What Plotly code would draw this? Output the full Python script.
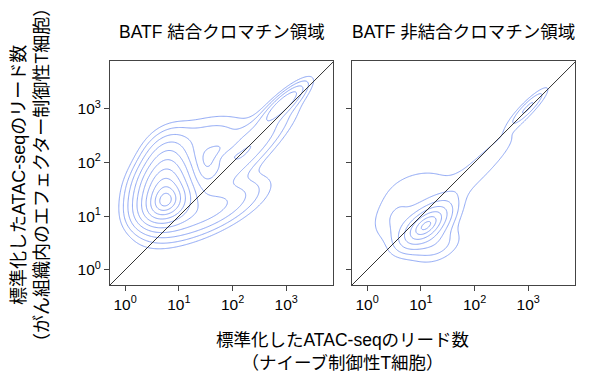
import numpy as np
import plotly.graph_objects as go

# ---- data (log10-space mixture description of the 2D density) ----
panel_titles = ["BATF 結合クロマチン領域", "BATF 非結合クロマチン領域"]
tick_values = [1, 10, 100, 1000]
tick_labels = ["10<sup>0</sup>", "10<sup>1</sup>", "10<sup>2</sup>", "10<sup>3</sup>"]
log_range_x = [-0.28, 3.87]
log_range_y = [-0.28, 3.89]

# BATF-bound regions: component centres (log10), spreads, correlation, amplitude
bound_mx = [0.77, 0.72, 0.75, 1.60, 1.55, 2.25, 2.95, 1.90]
bound_my = [1.22, 1.62, 2.10, 2.50, 1.10, 2.20, 3.10, 2.10]
bound_sx = [0.30, 0.30, 0.25, 0.50, 0.55, 0.50, 0.24, 0.15]
bound_sy = [0.25, 0.30, 0.28, 0.25, 0.32, 0.50, 0.22, 0.10]
bound_rho = [0.30, 0.30, 0.30, 0.30, 0.70, 0.88, 0.85, 0.50]
bound_w = [1.00, 0.70, 0.20, 0.06, 0.20, 0.16, 0.25, 0.04]

# BATF-unbound regions
unb_mx = [1.10, 0.50, 1.00, 2.20, 3.00, 1.30]
unb_my = [0.83, 0.95, 1.55, 2.00, 3.03, 0.45]
unb_sx = [0.30, 0.30, 0.50, 0.55, 0.22, 0.30]
unb_sy = [0.26, 0.30, 0.28, 0.55, 0.22, 0.22]
unb_rho = [0.60, 0.30, 0.30, 0.90, 0.90, 0.40]
unb_w = [1.00, 0.15, 0.12, 0.12, 0.30, 0.20]

# contour levels (on the normalised "radius" scale of the density)
bound_levels = dict(start=0.35, size=0.28, n=10)
unb_levels = dict(start=0.28, size=0.33, n=7)

line_blue = "#8aa4f5"
font_family = "Liberation Sans, Arial, 'Noto Sans CJK JP', sans-serif"


def density(mx, my, sx, sy, rho, w, gx, gy):
    X, Y = np.meshgrid(gx, gy)
    Z = np.zeros_like(X)
    for a, b, s1, s2, r, ww in zip(mx, my, sx, sy, rho, w):
        dx = (X - a) / s1
        dy = (Y - b) / s2
        q = (dx * dx - 2 * r * dx * dy + dy * dy) / (1 - r * r)
        Z += ww * np.exp(-0.5 * q)
    return Z


gx = np.linspace(-0.3, 3.9, 260)
gy = np.linspace(-0.3, 3.9, 260)

fig = go.Figure()
xdoms = [[110 / 609, 333 / 609], [352 / 609, 575 / 609]]
ydom = [(378 - 285) / 378, (378 - 61) / 378]

datasets = [
    (bound_mx, bound_my, bound_sx, bound_sy, bound_rho, bound_w, bound_levels),
    (unb_mx, unb_my, unb_sx, unb_sy, unb_rho, unb_w, unb_levels),
]

for i, (mx, my, sx, sy, rho, w, lev) in enumerate(datasets):
    Z = density(mx, my, sx, sy, rho, w, gx, gy)
    R = np.sqrt(np.clip(-2 * np.log(Z / Z.max() + 1e-300), 0, 40))
    R = np.minimum(R, 6.0)
    xa = "x" if i == 0 else "x2"
    ya = "y" if i == 0 else "y2"
    fig.add_trace(go.Contour(
        x=10 ** gx, y=10 ** gy, z=R,
        contours=dict(coloring="lines", start=lev["start"],
                      end=lev["start"] + lev["size"] * (lev["n"] - 1) + 1e-6, size=lev["size"]),
        colorscale=[[0, line_blue], [1, line_blue]],
        line=dict(width=1), showscale=False, hoverinfo="skip",
        xaxis=xa, yaxis=ya,
    ))
    diag = [10 ** (-0.5), 10 ** 4.1]
    fig.add_trace(go.Scatter(x=diag, y=diag, mode="lines",
                             line=dict(color="#333333", width=1),
                             showlegend=False, hoverinfo="skip",
                             xaxis=xa, yaxis=ya))

axis_common = dict(
    type="log", showgrid=False, zeroline=False, showline=True, mirror=True,
    linecolor="#444444", linewidth=1, ticks="outside", ticklen=5, tickcolor="#444444",
    tickvals=tick_values, ticktext=tick_labels, automargin=False,
    tickfont=dict(size=15.5, color="black", family=font_family),
)

fig.update_layout(
    width=609, height=378,
    margin=dict(l=0, r=0, t=0, b=0, autoexpand=False),
    paper_bgcolor="white", plot_bgcolor="white",
    showlegend=False,
    font=dict(family=font_family, color="black"),
    xaxis=dict(axis_common, domain=xdoms[0], range=log_range_x, anchor="y"),
    yaxis=dict(axis_common, domain=ydom, range=log_range_y, anchor="x"),
    xaxis2=dict(axis_common, domain=xdoms[1], range=log_range_x, anchor="y2"),
    yaxis2=dict(axis_common, domain=ydom, range=log_range_y, anchor="x2", showticklabels=False),
)

annotations = [
    dict(text=panel_titles[0], x=sum(xdoms[0]) / 2, y=1 - 32 / 378, xref="paper", yref="paper",
         showarrow=False, font=dict(size=17.5), xanchor="center", yanchor="middle"),
    dict(text=panel_titles[1], x=sum(xdoms[1]) / 2, y=1 - 32 / 378, xref="paper", yref="paper",
         showarrow=False, font=dict(size=17.5), xanchor="center", yanchor="middle"),
    dict(text="標準化したATAC-seqのリード数<br>（ナイーブ制御性T細胞）", x=342 / 609, y=1 - 351 / 378,
         xref="paper", yref="paper", showarrow=False, font=dict(size=17.5),
         xanchor="center", yanchor="middle", align="center"),
    dict(text="標準化したATAC-seqのリード数<br>（がん組織内のエフェクター制御性T細胞）", x=30 / 609, y=1 - 175 / 378,
         xref="paper", yref="paper", showarrow=False, font=dict(size=18), textangle=-90,
         xanchor="center", yanchor="middle", align="center"),
]
fig.update_layout(annotations=annotations)

fig.write_html("out.html", config={"displayModeBar": False},
               post_script="document.body.style.margin='0px';document.body.style.overflow='hidden';")
